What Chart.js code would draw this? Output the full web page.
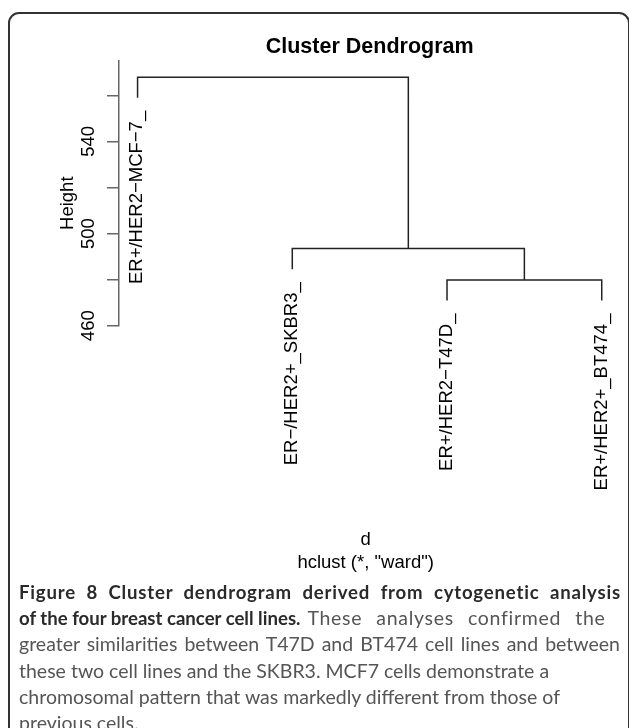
<!DOCTYPE html>
<html><head><meta charset="utf-8">
<script src="https://cdn.jsdelivr.net/npm/chart.js@4.4.0/dist/chart.umd.min.js"></script>
<style>
html,body{margin:0;padding:0;background:#fff;width:629px;height:728px;overflow:hidden;}
#wrap{position:relative;width:629px;height:728px;}
#box{position:absolute;left:8px;top:12px;width:622px;height:800px;border:2px solid #333;border-radius:11px;box-sizing:border-box;}
#c{position:absolute;left:0;top:0;}
#cap{position:absolute;left:19px;top:579px;font-family:Lato,"Open Sans",sans-serif;font-size:19.5px;line-height:26.2px;color:#555;white-space:nowrap;}
#cap div{text-align:left;}
#cap div.j{text-align-last:justify;}
#cap b{color:#2a2a2a;font-size:18.6px;}
#l1{letter-spacing:0.8px;}
#l2r{display:inline-block;width:298px;margin-left:7px;text-align-last:justify;letter-spacing:0.7px;}
</style></head>
<body><div id="wrap"><div id="box"></div><canvas id="c" width="629" height="580" style="width:629px;height:580px"></canvas>
<div id="cap">
<div id="l1" class="j" style="width:602px"><b>Figure 8 Cluster dendrogram derived from cytogenetic analysis</b></div>
<div><b>of the four breast cancer cell lines.</b><span id="l2r">These analyses confirmed the</span></div>
<div class="j" style="width:601px">greater similarities between T47D and BT474 cell lines and between</div>
<div class="j" style="width:529px">these two cell lines and the SKBR3. MCF7 cells demonstrate a</div>
<div class="j" style="width:541px">chromosomal pattern that was markedly different from those of</div>
<div>previous cells.</div>
</div>
</div>
<script>
const leafLabels = ["ER+/HER2\u2212MCF\u22127_", "ER\u2212/HER2+_SKBR3_", "ER+/HER2\u2212T47D_", "ER+/HER2+_BT474_"];
const leafPositions = [1, 2, 3, 4];
const leafBottoms = [558.9, 484.5, 470.9, 470.9];
// R-style merge table: negative = leaf (1-based), positive = earlier merge
const mergeLeft = [-3, -2, -1];
const mergeRight = [-4, 1, 2];
const mergeHeights = [479.8, 493.5, 567.8];
const yTicks = [460, 480, 500, 520, 540, 560];
const yTickLabels = ["460", "", "500", "", "540", ""];
const titleText = "Cluster Dendrogram";
const yTitle = "Height";
const xTitle = "d";
const subTitle = "hclust (*, \"ward\")";

const FONT = '"Liberation Sans", Arial, sans-serif';
const mergeX = [];
function childXY(c) {
  if (c < 0) return {x: leafPositions[-c - 1], y: leafBottoms[-c - 1]};
  return {x: mergeX[c - 1], y: mergeHeights[c - 1]};
}
const datasets = [];
for (let i = 0; i < mergeHeights.length; i++) {
  const l = childXY(mergeLeft[i]), r = childXY(mergeRight[i]);
  mergeX.push((l.x + r.x) / 2);
  datasets.push({
    data: [{x: l.x, y: l.y}, {x: l.x, y: mergeHeights[i]}, {x: r.x, y: mergeHeights[i]}, {x: r.x, y: r.y}],
    showLine: true, borderColor: '#222', borderWidth: 1.5, pointRadius: 0, tension: 0,
    fill: false, borderJoinStyle: 'miter', borderCapStyle: 'butt'
  });
}

const textPlugin = {
  id: 'texts',
  afterDraw(chart) {
    const ctx = chart.ctx, ca = chart.chartArea;
    const xs = chart.scales.x, ys = chart.scales.y;
    ctx.save();
    ctx.fillStyle = '#000';
    // title
    ctx.font = 'bold 21.5px ' + FONT;
    ctx.textAlign = 'center';
    ctx.textBaseline = 'alphabetic';
    ctx.fillText(titleText, (ca.left + ca.right) / 2, 53);
    // x title and sub
    ctx.font = '18.5px ' + FONT;
    ctx.fillText(xTitle, (ca.left + ca.right) / 2 - 4, 545);
    ctx.fillText(subTitle, (ca.left + ca.right) / 2 - 4, 568);
    // y tick labels
    yTicks.forEach((v, i) => {
      if (!yTickLabels[i]) return;
      ctx.save();
      ctx.translate(ca.left - 25.5, ys.getPixelForValue(v));
      ctx.rotate(-Math.PI / 2);
      ctx.textAlign = 'center';
      ctx.fillText(yTickLabels[i], 0, 0);
      ctx.restore();
    });
    // y title
    ctx.save();
    ctx.translate(73, (ca.top + ca.bottom) / 2 + 10);
    ctx.rotate(-Math.PI / 2);
    ctx.textAlign = 'center';
    ctx.fillText(yTitle, 0, 0);
    ctx.restore();
    // leaf labels
    leafLabels.forEach((lab, i) => {
      ctx.save();
      ctx.translate(xs.getPixelForValue(leafPositions[i]) + 4.8, ys.getPixelForValue(leafBottoms[i]) + 13);
      ctx.rotate(-Math.PI / 2);
      ctx.textAlign = 'right';
      ctx.fillText(lab, 0, 0);
      ctx.restore();
    });
    ctx.restore();
  }
};

new Chart(document.getElementById('c'), {
  type: 'scatter',
  data: {datasets},
  options: {
    responsive: false, animation: false,
    layout: {padding: {left: 107, top: 60.7, right: 8.7, bottom: 254.3}},
    plugins: {legend: {display: false}, tooltip: {enabled: false}, title: {display: false}},
    scales: {
      x: {type: 'linear', min: 0.88, max: 4.12, display: false},
      y: {
        type: 'linear', position: 'left', min: 460, max: 575,
        border: {display: true, color: '#666', width: 1.5},
        grid: {display: true, drawOnChartArea: false, drawTicks: true, tickLength: 12, color: '#666', lineWidth: 1.5},
        ticks: {display: false, stepSize: 20, includeBounds: false}
      }
    }
  },
  plugins: [textPlugin]
});
</script>
</body></html>
